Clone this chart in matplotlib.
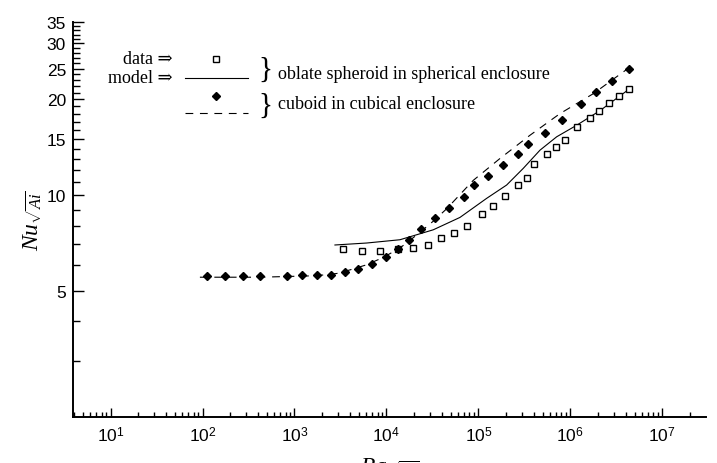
import matplotlib
matplotlib.use('Agg')
import matplotlib.pyplot as plt
from matplotlib.ticker import FixedLocator, NullFormatter, LogLocator
from matplotlib.lines import Line2D

plt.rcParams['font.family'] = 'Liberation Sans'
plt.rcParams['mathtext.fontset'] = 'custom'
plt.rcParams['mathtext.rm'] = 'Liberation Serif'
plt.rcParams['mathtext.it'] = 'Liberation Serif:italic'
plt.rcParams['mathtext.sf'] = 'Liberation Sans'

# cuboid in cubical enclosure (data, filled diamonds)
cub_ra = [112, 175, 273, 421, 821, 1214, 1741, 2491, 3512, 4935, 6955, 9879,
          13250, 17700, 23900, 33700, 47900, 69700, 89500, 128000, 183700,
          273000, 349000, 530000, 811000, 1.296e6, 1.901e6, 2.84e6, 4.35e6]
cub_nu = [5.57, 5.57, 5.57, 5.55, 5.57, 5.59, 5.59, 5.61, 5.71, 5.86, 6.05, 6.36,
          6.74, 7.23, 7.79, 8.45, 9.12, 9.89, 10.73, 11.49, 12.42,
          13.51, 14.45, 15.73, 17.21, 19.32, 21.1, 22.89, 25.02]

# oblate spheroid in spherical enclosure (data, open squares)
sph_ra = [3390, 5416, 8500, 13250, 19280, 28280, 39650, 54240, 75680, 108900,
          145200, 197100, 271600, 337700, 399200, 553000, 698200, 885500,
          1.172e6, 1.636e6, 2.065e6, 2.653e6, 3.408e6, 4.377e6]
sph_nu = [6.74, 6.66, 6.67, 6.74, 6.81, 6.97, 7.30, 7.59, 7.96, 8.71,
          9.22, 9.91, 10.74, 11.32, 12.48, 13.42, 14.13, 14.93,
          16.34, 17.48, 18.43, 19.53, 20.54, 21.56]

# models
sph_model_ra = [2754, 6093, 14030, 32300, 63050, 123000, 203000, 307700,
                467700, 710500, 1.172e6, 2.10e6, 4.65e6]
sph_model_nu = [6.96, 7.06, 7.23, 7.77, 8.50, 9.76, 10.75, 12.13,
                13.84, 15.25, 16.58, 18.43, 21.84]
cub_model_ra = [93.6, 421, 1741, 2873, 4010, 6093, 9233, 14030, 21310, 32300,
                45190, 88000, 171700, 364000, 771600, 1.776e6, 4.65e6]
cub_model_nu = [5.51, 5.51, 5.57, 5.66, 5.81, 6.03, 6.36, 6.81, 7.48, 8.27,
                9.05, 11.12, 13.03, 15.42, 18.04, 20.84, 25.51]

y_major = [5, 10, 15, 20, 25, 30, 35]
y_minor = [3, 4, 6, 7, 8, 9, 11, 12, 13, 14] + [v for v in range(16, 35) if v % 5 != 0]
x_major = [10**k for k in range(1, 8)]
x_labels = [r'$\mathsf{10}^{\mathsf{%d}}$' % k for k in range(1, 8)]

fig = plt.figure(figsize=(7.17, 4.64), dpi=100)
ax = fig.add_axes([73/717, 1-418/464, (706-73)/717, (418-23.2)/464])

ax.plot(sph_model_ra, sph_model_nu, 'k-', lw=0.8)
ax.plot(cub_model_ra, cub_model_nu, 'k--', lw=0.8, dashes=(7, 6))
ax.plot(sph_ra, sph_nu, 's', mfc='white', mec='k', ms=4.5, mew=1.0, ls='none')
ax.plot(cub_ra, cub_nu, 'D', color='k', ms=4.5, ls='none')

ax.set_xscale('log')
ax.set_yscale('log')
ax.set_xlim(3.9, 2.99e7)
ax.set_ylim(2, 35)

ax.xaxis.set_major_locator(FixedLocator(x_major))
ax.set_xticklabels(x_labels)
ax.xaxis.set_minor_locator(LogLocator(base=10, subs=range(2, 10), numticks=50))
ax.xaxis.set_minor_formatter(NullFormatter())
ax.yaxis.set_major_locator(FixedLocator(y_major))
ax.set_yticklabels([str(v) for v in y_major])
ax.yaxis.set_minor_locator(FixedLocator(y_minor))
ax.yaxis.set_minor_formatter(NullFormatter())

for s in ['top', 'right']:
    ax.spines[s].set_visible(False)
for s in ['left', 'bottom']:
    ax.spines[s].set_linewidth(1.4)
ax.tick_params(which='both', direction='in', width=1.0, labelsize=12.5)
ax.tick_params(axis='y', which='major', length=8, pad=5)
ax.tick_params(axis='y', which='minor', length=5)
ax.tick_params(axis='x', which='major', length=6.7, pad=6)
ax.tick_params(axis='x', which='minor', length=3.6)

ax.set_ylabel(r'$Nu_{\sqrt{Ai}}$', fontsize=17, labelpad=2)
ax.set_xlabel(r'$Ra_{\sqrt{Ai}}$', fontsize=17, labelpad=8)

# legend, drawn by hand
def fx(x):
    return x / 717.0

def fy(y):
    return 1 - y / 464.0

serif = ['Liberation Serif', 'DejaVu Serif']
fig.text(fx(173), fy(64), u'data \u21d2', ha='right', va='baseline', fontsize=13, family=serif)
fig.text(fx(173), fy(83), u'model \u21d2', ha='right', va='baseline', fontsize=13, family=serif)
fig.add_artist(Line2D([fx(216)], [fy(60)], marker='s', mfc='white', mec='k', ms=4.5, mew=1.0))
fig.add_artist(Line2D([fx(185), fx(248)], [fy(78.7), fy(78.7)], color='k', lw=0.8))
fig.add_artist(Line2D([fx(216)], [fy(97)], marker='D', color='k', ms=4.5))
fig.add_artist(Line2D([fx(185), fx(248)], [fy(114), fy(114)], color='k', lw=0.8, ls='--', dashes=(7, 6)))
fig.text(fx(258), fy(70), '}', ha='left', va='center', fontsize=21, family=serif)
fig.text(fx(258), fy(105.5), '}', ha='left', va='center', fontsize=21, family=serif)
fig.text(fx(278), fy(79), 'oblate spheroid in spherical enclosure', ha='left', va='baseline', fontsize=13, family=serif)
fig.text(fx(278), fy(109), 'cuboid in cubical enclosure', ha='left', va='baseline', fontsize=13, family=serif)

plt.savefig('out.png', dpi=100)
